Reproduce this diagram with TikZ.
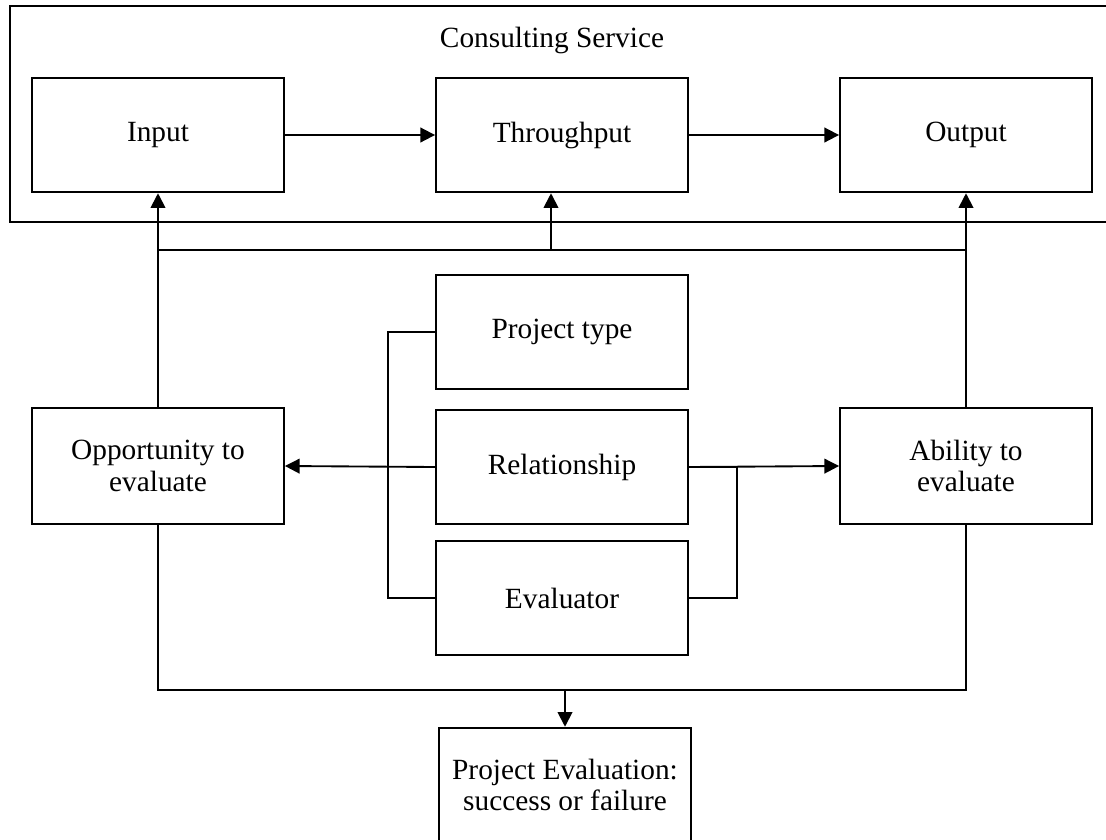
\documentclass[tikz,border=0pt]{standalone}
\usepackage{fontspec}
\setmainfont{Liberation Serif}
\usepackage{tikz}
\usetikzlibrary{arrows.meta}

\tikzset{
  box/.style={draw, line width=1.4pt, minimum width=189pt, minimum height=86pt, align=center, inner sep=0pt},
  conn/.style={line width=1.4pt},
  arr/.style={line width=1.4pt, -{Triangle[length=11pt,width=11pt]}}
}

\begin{document}
\begin{tikzpicture}[x=0.75pt,y=-0.75pt]
\fontsize{22}{23.5}\selectfont
 \useasboundingbox (0,0) rectangle (1106,839);
 \draw[conn] (1115,6) -- (10,6) -- (10,222) -- (1115,222);
 \draw (552,40) node (cs) {Consulting Service};

  \draw (158,135) node[box] (input) {Input};
  \draw (562,135) node[box] (through) {Throughput};
  \draw (966,135) node[box] (output) {Output};

    \draw (562,332) node[box] (ptype) {Project type};
    \draw (562,467) node[box] (rel) {Relationship};
    \draw (562,598) node[box] (evaluator) {Evaluator};

  \draw (158,466) node[box, minimum height=87pt] (opp) {Opportunity to\\evaluate};
  \draw (966,466) node[box, minimum height=87pt] (ability) {Ability to\\evaluate};

	\draw (565,785) node[box] (result) {Project Evaluation:\\success or failure};

 \coordinate (busL) at (158,250);
 \coordinate (busR) at (966,250);
 \coordinate (busM) at (551,250);
 \coordinate (lowL) at (158,690);
 \coordinate (lowR) at (966,690);
 \coordinate (lowM) at (565,690);

     \draw[arr] (input) -- (through);
     \draw[arr] (through) -- (output);

     \draw[arr] (opp.north) -- (input.south);
     \draw[arr] (ability.north) -- (output.south);
     \draw[conn] (busL) -- (busR);
     \draw[arr] (busM) -- (busM |- through.south);

     \draw[arr] (rel.west) -- (opp.east);
     \draw[arr] (rel.east) -- (ability.west);
     \draw[conn] (ptype.west) -- ++(-35pt,0) |- (evaluator.west);
     \draw[conn] (evaluator.east) -- ++(36pt,0) |- (rel.east);

     \draw[conn] (opp.south) -- (lowL) -- (lowR) -- (ability.south);
     \draw[arr] (lowM) -- (result.north);

\end{tikzpicture}
\end{document}
